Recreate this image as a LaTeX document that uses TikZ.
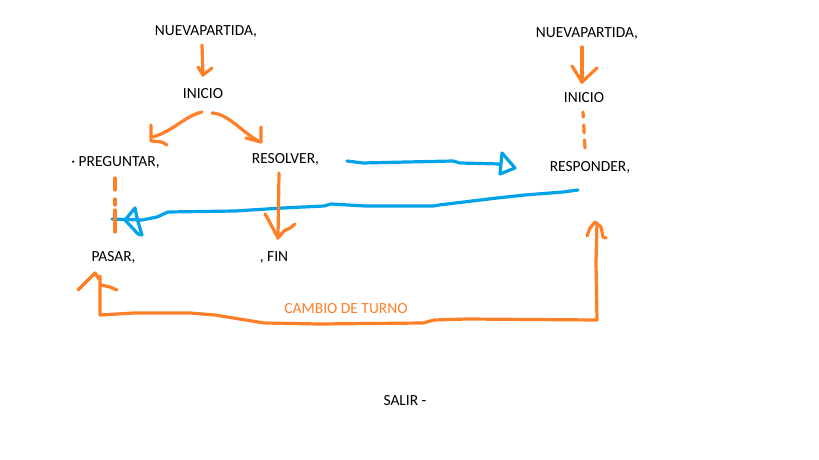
\documentclass[tikz,border=0pt]{standalone}
\usepackage{fontspec}
\setmainfont{Carlito}
\definecolor{paintorange}{RGB}{255,127,39}
\definecolor{paintblue}{RGB}{0,162,232}
\begin{document}
\begin{tikzpicture}[x=0.75pt,y=-0.75pt,
  lbl/.style={anchor=base,inner sep=0pt,font=\fontsize{11.6}{13}\selectfont},
  ostroke/.style={draw=paintorange,line width=2.4pt,line cap=round,line join=round},
  bstroke/.style={draw=paintblue,line width=2.4pt,line cap=round,line join=round}]
\useasboundingbox[fill=white] (0,0) rectangle (819,460);

% labels
\node[lbl] (np1) at (206,36) {NUEVAPARTIDA,};
\node[lbl] (ini1) at (203,99) {INICIO};
\node[lbl] (preg) at (115.5,167) {· PREGUNTAR,};
\node[lbl] (res) at (285.5,164) {RESOLVER,};
\node[lbl] (pasar) at (113.5,262) {PASAR,};
\node[lbl] (fin) at (274,262) {, FIN};
\node[lbl] (np2) at (587,38) {NUEVAPARTIDA,};
\node[lbl] (ini2) at (584,103) {INICIO};
\node[lbl] (resp) at (590,172) {RESPONDER,};
\node[lbl,text=paintorange] (cambio) at (346,314) {CAMBIO DE TURNO};
\node[lbl] (salir) at (405,405) {SALIR -};

% connector end points
\coordinate (np1s) at (202,45);  \coordinate (ini1t) at (203,75);
\coordinate (ini1l) at (202,112); \coordinate (pregt) at (153,137);
\coordinate (ini1r) at (212,113); \coordinate (rest) at (258,141);
\coordinate (resb) at (279,173); \coordinate (fint) at (278,238);
\coordinate (np2s) at (582,47);  \coordinate (ini2t) at (582,82);
\coordinate (ini2b) at (583,112); \coordinate (respt) at (585,148);
\coordinate (pregb) at (115,178); \coordinate (pasart) at (115,232);
\coordinate (resr) at (347,161); \coordinate (respl) at (500,164);
\coordinate (respd) at (578,190); \coordinate (pasarr) at (112,219);
\coordinate (resparr) at (597,223); \coordinate (pasarb) at (100,276);

% blue connectors
\draw[bstroke] (resr) -- (363,163) -- (407,162) -- (453,161) -- (460,163) -- (respl);
\draw[bstroke] (502,153) -- (515,168) -- (500,174) -- cycle;
\draw[bstroke] (respd) -- (563,192) -- (525,195) -- (497,198) -- (439,205) -- (433,206)
  -- (365,206) -- (331,204) -- (324,206) -- (283,208) -- (235,211) -- (168,212)
  -- (157,217) -- (142,220) -- (pasarr);
\draw[bstroke] (125,220) -- (135,208) -- (137,218) -- (142,235) -- (138,234) -- cycle;

% orange connectors (left)
\draw[ostroke] (np1s) -- (ini1t);
\draw[ostroke] (198,67) -- (ini1t) -- (212,68);
\draw[ostroke] (ini1l) .. controls (185,116) and (175,130) .. (pregt);
\draw[ostroke] (151,125) -- (151,141) -- (162,142) -- (167,145);
\draw[ostroke] (ini1r) .. controls (228,114) and (240,130) .. (rest);
\draw[ostroke] (261,127) -- (261,142) -- (246,138);
\draw[ostroke] (resb) -- (fint);
\draw[ostroke] (265,214) -- (268,219) -- (fint) -- (284,231) -- (290,228) -- (295,224);
\draw[ostroke,dash pattern=on 9pt off 6.75pt on 4.5pt off 3.75pt on 16.5pt] (pregb) -- (pasart);

% orange connectors (right)
\draw[ostroke] (np2s) -- (ini2t);
\draw[ostroke] (572,66) -- (ini2t) -- (597,68);
\draw[ostroke,dash pattern=on 3.75pt off 6pt on 6pt off 5.25pt on 6pt] (ini2b) -- (respt);

% cambio de turno loop
\draw[ostroke] (resparr) -- (596,262) -- (597,320) -- (467,319) -- (434,320) -- (423,323)
  -- (319,324) -- (264,323) -- (215,315) -- (190,313) -- (134,313) -- (100,315) -- (pasarb);
\draw[ostroke] (78,290) -- (83,285) -- (90,278) -- (95,273) -- (99,279);
\draw[ostroke] (101,285) -- (110,287) -- (117,290);
\draw[ostroke] (587,236) -- (590,228) -- (595,222) -- (601,227) -- (603,237) -- (606,238);
\end{tikzpicture}
\end{document}
